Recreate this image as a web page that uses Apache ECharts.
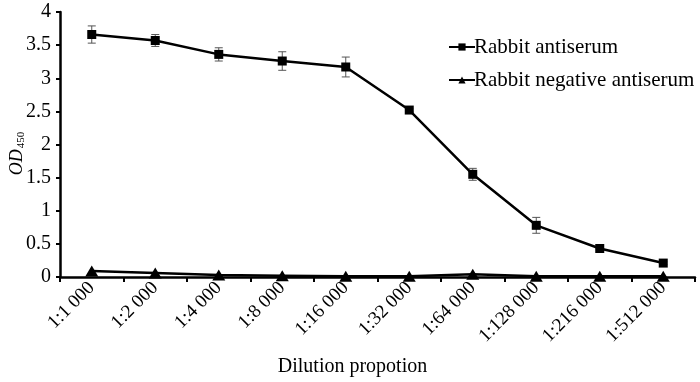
<!DOCTYPE html>
<html>
<head>
<meta charset="utf-8">
<script src="https://cdn.jsdelivr.net/npm/echarts@6/dist/echarts.min.js"></script>
<style>
  html, body { margin: 0; padding: 0; background: #fff; }
  #chart { width: 700px; height: 382px; }
</style>
</head>
<body>
<div id="chart"></div>
<script>
const dilutions = ['1:1 000', '1:2 000', '1:4 000', '1:8 000', '1:16 000', '1:32 000', '1:64 000', '1:128 000', '1:216 000', '1:512 000']
const antiserum = [3.66, 3.57, 3.36, 3.26, 3.17, 2.52, 1.55, 0.78, 0.43, 0.21]
const antiserumErr = [0.13, 0.09, 0.1, 0.14, 0.15, 0.02, 0.09, 0.12, 0.02, 0.02]
const negative = [0.09, 0.06, 0.03, 0.02, 0.01, 0.01, 0.04, 0.01, 0.01, 0.01]

const FONT = '"Liberation Serif", "DejaVu Serif", serif'
const chart = echarts.init(document.getElementById('chart'))

// [index, low, high] for the error bars
const errData = antiserum.map((v, i) => [i, v - antiserumErr[i], v + antiserumErr[i]])

chart.setOption({
  animation: false,
  backgroundColor: '#fff',
  textStyle: { fontFamily: FONT, color: '#000' },
  legend: {
    orient: 'vertical',
    left: 443,
    top: 31,
    itemWidth: 26,
    itemHeight: 9,
    itemGap: 11,
    textStyle: { fontFamily: FONT, fontSize: 21, lineHeight: 22, color: '#000', padding: [0, 0, 0, -6] },
    data: ['Rabbit antiserum', 'Rabbit negative antiserum']
  },
  grid: { left: 60, right: 5, top: 12, bottom: 105, outerBoundsMode: 'none' },
  xAxis: {
    type: 'category',
    data: dilutions,
    name: 'Dilution propotion',
    nameLocation: 'middle',
    nameMoveOverlap: false,
    nameGap: 80,
    nameTextStyle: { fontFamily: FONT, fontSize: 20, color: '#000', padding: [0, 50, 0, 0] },
    axisLine: { lineStyle: { color: '#000', width: 2.5 } },
    axisTick: { show: true, length: 5, lineStyle: { color: '#000', width: 2 } },
    axisLabel: { rotate: 45, fontFamily: FONT, fontSize: 19, color: '#000', margin: 8 }
  },
  yAxis: {
    type: 'value',
    min: 0,
    max: 4,
    interval: 0.5,
    name: '{i|OD}{s|450}',
    nameLocation: 'middle',
    nameMoveOverlap: false,
    nameRotate: 90,
    nameGap: 33,
    nameTextStyle: {
      padding: [0, 18, 0, 0],
      rich: {
        i: { fontFamily: FONT, fontStyle: 'italic', fontSize: 18, color: '#000' },
        s: { fontFamily: FONT, fontSize: 11, color: '#000', padding: [9, 0, 0, 1] }
      }
    },
    splitLine: { show: false },
    axisLine: { show: true, lineStyle: { color: '#000', width: 2.5 } },
    axisTick: { show: true, length: 4, lineStyle: { color: '#000', width: 2 } },
    axisLabel: { fontFamily: FONT, fontSize: 20, color: '#000', margin: 9 }
  },
  series: [
    {
      name: 'Rabbit antiserum',
      type: 'line',
      data: antiserum,
      symbol: 'rect',
      symbolSize: 9,
      lineStyle: { color: '#000', width: 2.5 },
      itemStyle: { color: '#000' },
      z: 3
    },
    {
      name: 'Rabbit negative antiserum',
      type: 'line',
      data: negative,
      symbol: 'triangle',
      symbolSize: [13, 11],
      lineStyle: { color: '#000', width: 2.5 },
      itemStyle: { color: '#000' },
      z: 3
    },
    {
      type: 'custom',
      data: errData,
      silent: true,
      z: 2,
      renderItem: (params, api) => {
        const lo = api.coord([api.value(0), api.value(1)])
        const hi = api.coord([api.value(0), api.value(2)])
        const w = 4
        const style = { stroke: '#555', lineWidth: 1 }
        return {
          type: 'group',
          children: [
            { type: 'line', shape: { x1: lo[0], y1: lo[1], x2: hi[0], y2: hi[1] }, style },
            { type: 'line', shape: { x1: lo[0] - w, y1: lo[1], x2: lo[0] + w, y2: lo[1] }, style },
            { type: 'line', shape: { x1: hi[0] - w, y1: hi[1], x2: hi[0] + w, y2: hi[1] }, style }
          ]
        }
      }
    }
  ]
})
</script>
</body>
</html>
